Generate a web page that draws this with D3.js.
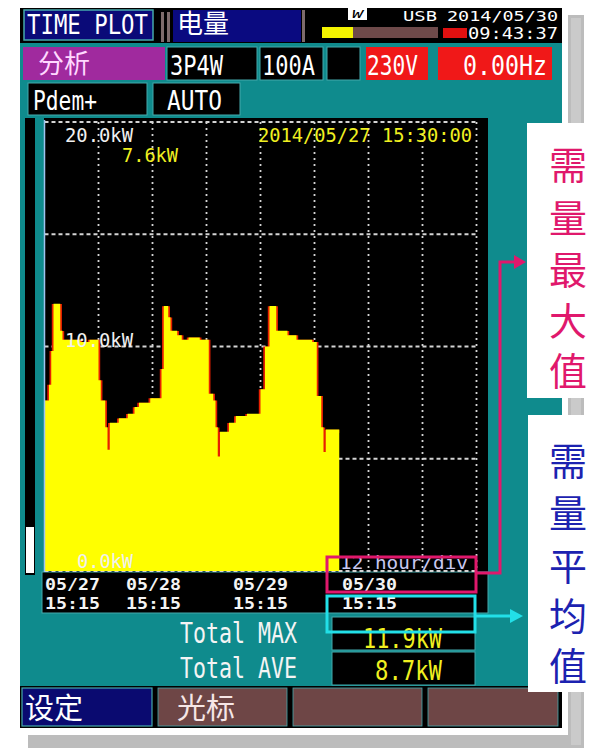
<!DOCTYPE html>
<html><head><meta charset="utf-8">
<script src="https://cdn.jsdelivr.net/npm/d3@7/dist/d3.min.js"></script>
<style>html,body{margin:0;padding:0;background:#fff}svg{display:block}</style>
</head><body>
<svg id="c" width="589" height="749"></svg>
<script>
// ---------- DATA ----------
// demand steps: hour offset from 05/27 15:15 where each step starts, and the demand (kW)
const stepHours = [0, 1, 1.5, 2, 3.5, 4, 8, 10, 12, 12.5, 13.5, 14, 14.5, 16.5, 18.5, 20, 21, 23.5,
  26, 26.5, 27.5, 28, 29.5, 30.5, 32, 34.5, 36.5, 37.5, 38, 38.5, 39, 41, 42.5, 45,
  48, 49, 50, 51.5, 54, 56, 59.5, 60.5, 61.5, 62, 62.5];
const demandKW = [7.6, 8.3, 9.8, 11.9, 10.7, 10.3, 10.2, 10.3, 8.5, 7.6, 6.4, 5.4, 6.6, 6.8, 7.0, 7.3, 7.5, 7.7,
  9.0, 11.8, 11.3, 10.7, 10.5, 10.3, 10.4, 10.3, 7.9, 7.6, 6.4, 5.1, 6.2, 6.6, 6.9, 7.0,
  8.1, 10.0, 11.8, 10.7, 10.5, 10.3, 10.2, 7.8, 6.4, 5.3, 6.3];
const lastHour = 65.5;
const yGridValues = [0, 5, 10, 15, 20];
const xGridHours = [12, 24, 36, 48, 60, 72, 84, 96];
const yLabelValues = [20, 10, 0];
const yLabels = ["20.0kW", "10.0kW", "0.0kW"];
const xDateLabels = ["05/27", "05/28", "05/29", "05/30"];
const xTimeLabels = ["15:15", "15:15", "15:15", "15:15"];
const cursorStamp = "2014/05/27 15:30:00";
const cursorValue = "7.6kW";
const divLabel = "12 hour/div";
const totalMax = "11.9kW";
const totalAve = "8.7kW";
const noteMax = ["需", "量", "最", "大", "值"];
const noteAve = ["需", "量", "平", "均", "值"];

// ---------- LAYOUT ----------
const svg = d3.select("#c");
const MONO = "'DejaVu Sans Mono', 'Liberation Mono', monospace";
const CJK = "'Noto Sans CJK SC', 'Noto Sans', sans-serif";
const TEAL = "#0f8b8d", EDGE = "#45a9ac";

const x = d3.scaleLinear().domain([0, 96]).range([44.5, 476.5]);
const y = d3.scaleLinear().domain([0, 20]).range([571, 122]);

function rect(g, X, Y, W, H, fill, stroke, sw) {
  const r = g.append("rect").attr("x", X).attr("y", Y).attr("width", W).attr("height", H).attr("fill", fill);
  if (stroke) r.attr("stroke", stroke).attr("stroke-width", sw || 1);
  return r;
}
function txt(g, s, X, Y, size, fill, len, fam) {
  const t = g.append("text").attr("x", X).attr("y", Y).attr("font-family", fam || MONO)
    .attr("font-size", size).attr("fill", fill).text(s);
  if (len) t.attr("textLength", len).attr("lengthAdjust", "spacingAndGlyphs");
  return t;
}

svg.append("rect").attr("width", 589).attr("height", 749).attr("fill", "#fff");
// shadows
rect(svg, 568, 15, 16, 733, "#bcbcbc");
rect(svg, 28, 735, 556, 13, "#bcbcbc");
rect(svg, 571, 18, 10, 727, "#cacaca");

// screen
rect(svg, 20, 8, 542, 720, TEAL);
rect(svg, 20, 8, 542, 35, "#000");

// top row
rect(svg, 24, 10, 129, 30, "#0a0a78", EDGE, 1.5);
txt(svg, "TIME PLOT", 27, 34, 27, "#fff", 121);
rect(svg, 161, 12, 3, 30, "#7d6b6b");
rect(svg, 167, 12, 3, 30, "#7d6b6b");
rect(svg, 173, 10, 128, 32, "#0a0a80");
rect(svg, 302, 10, 3, 32, "#7d6b6b");
txt(svg, "电量", 177, 33, 26, "#fff", null, CJK);
rect(svg, 348, 8, 19, 12, "#fff");
txt(svg, "W", 352, 18, 11, "#000", 11).attr("font-style", "italic");
txt(svg, "USB", 403, 21, 14, "#fff", 34);
txt(svg, "2014/05/30", 447, 21, 14, "#fff", 111);
rect(svg, 322, 27, 31, 11, "#f4f400");
rect(svg, 353, 27, 85, 11, "#6e4a4a");
rect(svg, 443, 28, 24, 10, "#e01010");
txt(svg, "09:43:37", 468, 39, 15, "#fff", 90);

// row 2
rect(svg, 23, 47, 142, 33, "#a02a9e");
txt(svg, "分析", 38, 73, 26, "#ffd8ff", null, CJK);
rect(svg, 167, 47, 90, 33, "#000", EDGE, 1);
txt(svg, "3P4W", 170, 75, 26, "#fff", 53);
rect(svg, 260, 47, 63, 33, "#000", EDGE, 1);
txt(svg, "100A", 262, 75, 26, "#fff", 53);
rect(svg, 327, 47, 33, 33, "#000", EDGE, 1);
rect(svg, 366, 47, 62, 33, "#f01818");
txt(svg, "230V", 367, 75, 26, "#fff", 51);
rect(svg, 438, 47, 114, 33, "#f01818");
txt(svg, "0.00Hz", 463, 75, 26, "#fff", 84);

// row 3
rect(svg, 28, 83, 119, 32, "#000", EDGE, 1);
txt(svg, "Pdem+", 33, 110, 26, "#fff", 64);
rect(svg, 153, 83, 87, 32, "#000", EDGE, 1);
txt(svg, "AUTO", 167, 110, 26, "#fff", 55);

// plot frame
rect(svg, 25, 118, 10, 457, "#000");
rect(svg, 26, 527, 8, 46, "#fff");
rect(svg, 44, 118, 444, 455, "#000");
rect(svg, 42, 572, 446, 41, "#000", EDGE, 1);

// grid
const grid = svg.append("g").attr("stroke", "#d4d4d4").attr("stroke-width", 1.8);
grid.selectAll("line.h").data(yGridValues).join("line").attr("class", "h")
  .attr("x1", x(0)).attr("x2", x(96) + 2).attr("y1", d => y(d)).attr("y2", d => y(d))
  .attr("stroke-dasharray", "4,3");
grid.selectAll("line.v").data(xGridHours).join("line").attr("class", "v")
  .attr("x1", d => x(d)).attr("x2", d => x(d)).attr("y1", y(20)).attr("y2", y(0))
  .attr("stroke-dasharray", "2,4");

// series: red outline on vertical edges, yellow fill
const pts = stepHours.map((h, i) => ({ h, v: demandKW[i] }));
pts.push({ h: lastHour, v: demandKW[demandKW.length - 1] });
const line = d3.line().curve(d3.curveStepAfter).x(d => x(d.h)).y(d => y(d.v));
const area = d3.area().curve(d3.curveStepAfter).x(d => x(d.h)).y0(y(0)).y1(d => y(d.v));
svg.append("path").attr("d", line(pts)).attr("fill", "none").attr("stroke", "#e82000")
  .attr("stroke-width", 3.4).attr("transform", "translate(0,1.8)");
svg.append("path").attr("d", area(pts)).attr("fill", "#ffff00");

// left pale line
svg.append("line").attr("x1", 44.5).attr("x2", 44.5).attr("y1", 120).attr("y2", 572)
  .attr("stroke", "#9ec4f0").attr("stroke-width", 1.5);

// axis labels inside plot
const yLabelBase = [142, 347, 568];
const yLabelX = [65, 65, 77];
const yLabelLen = [68, 68, 56];
yLabels.forEach((s, i) => txt(svg, s, yLabelX[i], yLabelBase[i], 20, "#f0f0f0", yLabelLen[i]));
txt(svg, cursorValue, 122, 162, 20, "#f0f020", 56);
txt(svg, cursorStamp, 258, 142, 20, "#f0f020", 214);
txt(svg, divLabel, 340, 569, 18, "#c8c8f0", 128);

const xLabelX = [45, 126, 233, 342];
xDateLabels.forEach((s, i) => txt(svg, s, xLabelX[i], 590, 16, "#f4f4f4", 55).attr("font-weight", "bold"));
xTimeLabels.forEach((s, i) => txt(svg, s, xLabelX[i], 609, 16, "#f4f4f4", 55).attr("font-weight", "bold"));

// totals
txt(svg, "Total MAX", 180, 643, 28, "#f4f4f4", 117);
txt(svg, "Total AVE", 180, 678, 28, "#f4f4f4", 117);
rect(svg, 332, 617, 143, 33, "#000", EDGE, 1);
txt(svg, totalMax, 363, 648, 27, "#f0f020", 79);
rect(svg, 332, 652, 143, 33, "#000", EDGE, 1);
txt(svg, totalAve, 375, 680, 27, "#f0f020", 67);

// buttons
rect(svg, 20, 686, 542, 42, "#000");
rect(svg, 22, 688, 130, 38, "#0a0a70", EDGE, 1.2);
txt(svg, "设定", 25, 719, 29, "#fff", null, CJK);
rect(svg, 158, 688, 129, 38, "#6e4646", EDGE, 0.8);
txt(svg, "光标", 177, 719, 29, "#f6e6e6", null, CJK);
rect(svg, 293, 688, 129, 38, "#6e4646", EDGE, 0.8);
rect(svg, 428, 688, 130, 38, "#6e4646", EDGE, 0.8);

// annotation panels
rect(svg, 527, 123, 62, 275, "#fff");
rect(svg, 528, 415, 61, 277, "#fff");
const PINK = "#e0186c", CYAN = "#22e0e8";
const noteMaxY = [162, 215, 267, 318, 368];
const noteAveY = [458, 510, 563, 613, 663];
noteMax.forEach((c, i) => txt(svg, c, 568, noteMaxY[i], 38, PINK, null, CJK)
  .attr("text-anchor", "middle").attr("dominant-baseline", "central"));
noteAve.forEach((c, i) => txt(svg, c, 568, noteAveY[i], 38, "#1c22b0", null, CJK)
  .attr("text-anchor", "middle").attr("dominant-baseline", "central"));

// highlight boxes and arrows
svg.append("rect").attr("x", 327).attr("y", 557).attr("width", 149).attr("height", 35)
  .attr("fill", "none").attr("stroke", PINK).attr("stroke-width", 3);
svg.append("path").attr("d", "M476,573H500V262H516").attr("fill", "none").attr("stroke", PINK).attr("stroke-width", 3);
svg.append("path").attr("d", "M514,255L526,262L514,269Z").attr("fill", PINK);
svg.append("rect").attr("x", 327).attr("y", 596).attr("width", 148).attr("height", 36)
  .attr("fill", "none").attr("stroke", CYAN).attr("stroke-width", 3);
svg.append("path").attr("d", "M476,616H512").attr("fill", "none").attr("stroke", CYAN).attr("stroke-width", 3);
svg.append("path").attr("d", "M510,609L523,616L510,623Z").attr("fill", CYAN);
</script>
</body></html>
